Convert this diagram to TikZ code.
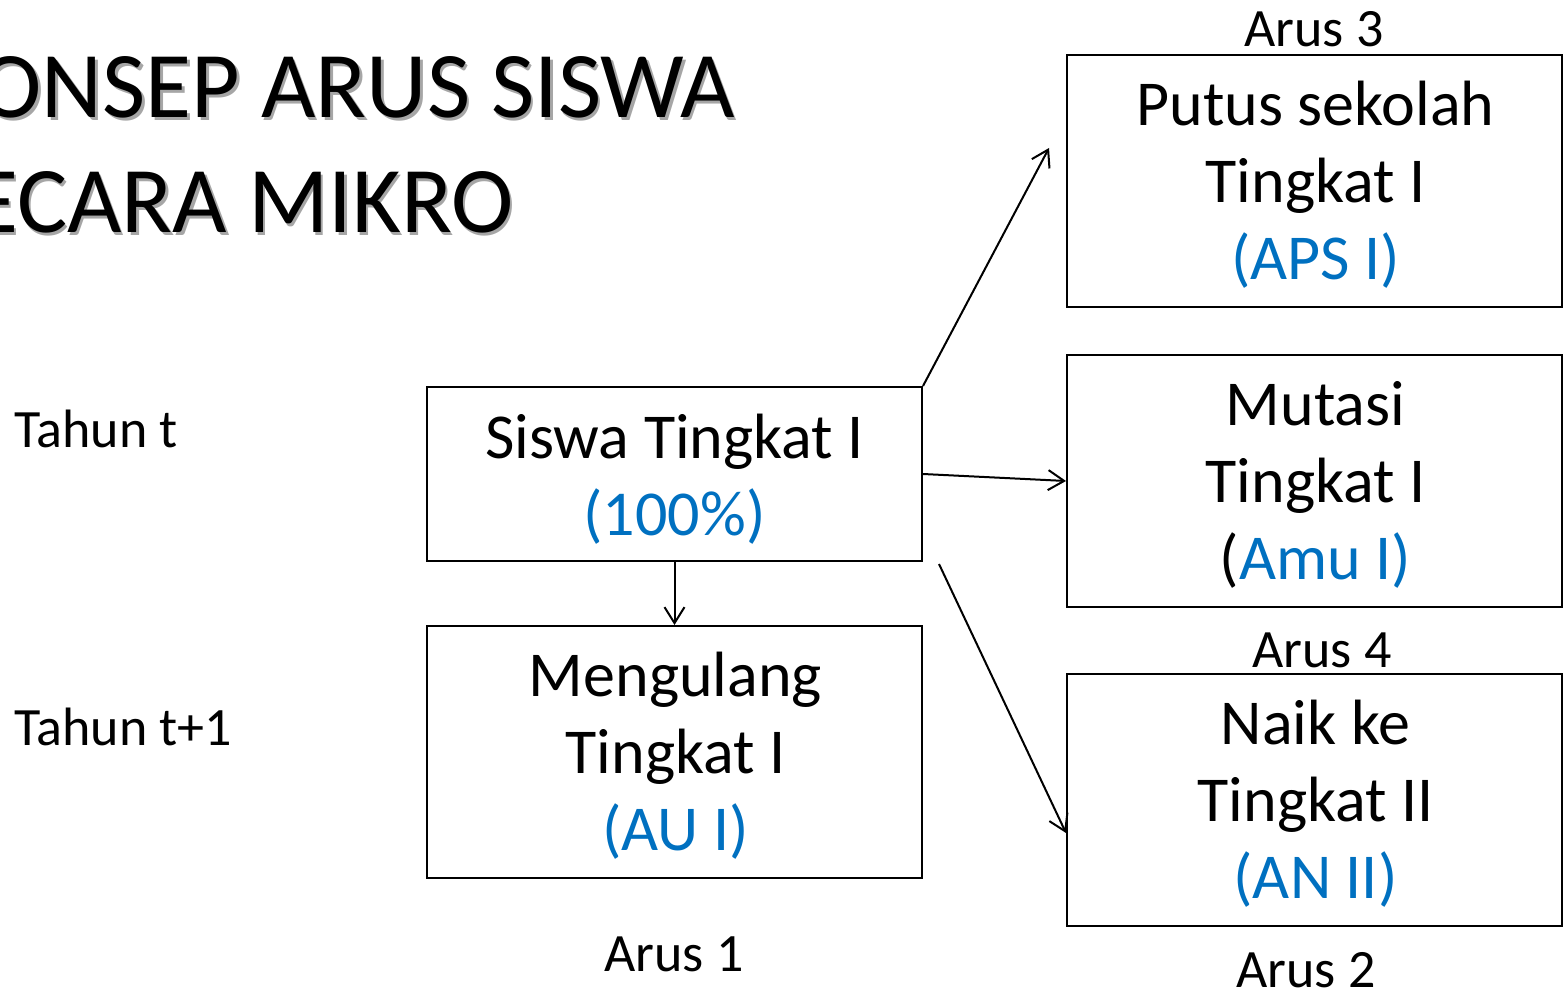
\documentclass[tikz,border=0pt]{standalone}
\usepackage{fontspec}
\setmainfont{Carlito}
\usepackage{xcolor}
\usetikzlibrary{calc, arrows.meta}

\definecolor{arusblue}{HTML}{0070C0}

\tikzset{
	kotak/.style = {draw, line width = 1pt, minimum width = 247.5pt, inner sep = 0pt},
	isi/.style = {align = center, inner sep = 0pt, font = \fontsize{32}{38.5}\selectfont},
	label/.style = {inner sep = 0pt, font = \fontsize{27}{32}\selectfont},
	judul/.style = {inner sep = 0pt, anchor = base east, font = \fontsize{47}{56}\selectfont},
	panah/.style = {line width = 1pt, -{Straight Barb[length = 8pt, width = 10pt, line width = 1pt]}}
}

\newcommand{\biru}[1]{\textcolor{arusblue}{#1}}

\begin{document}
\begin{tikzpicture}[x = 0.5pt, y = -0.5pt]
		\useasboundingbox (0,0) rectangle (1563,989);
		\clip (0,0) rectangle (1563,989);
		
		% judul
		\begin{scope}
			\node [judul, text = black!50, opacity = 0.7] at (737.5,121) {KONSEP ARUS SISWA};
			\node [judul, text = black!50, opacity = 0.7] at (516.5,236) {SECARA MIKRO};
			\node [judul] (judul1) at (735,118) {KONSEP ARUS SISWA};
			\node [judul] (judul2) at (514,233) {SECARA MIKRO};
		\end{scope}
		
		% kotak
		\node [kotak, minimum height = 87pt] (siswa) at (674.5,474) {};
		\node [kotak, minimum height = 126pt] (ulang) at (674.5,752) {};
		\node [kotak, minimum height = 126pt] (putus) at (1314.5,181) {};
		\node [kotak, minimum height = 126pt] (mutasi) at (1314.5,481) {};
		\node [kotak, minimum height = 126pt] (naik) at (1314.5,800) {};
		
		% isi kotak
		\node [isi] (siswateks) at ($ (siswa.center) + (0,5) $) {Siswa Tingkat I\\\biru{(100\%)}};
		\node [isi] (ulangteks) at ($ (ulang.center) + (1,4) $) {Mengulang\\Tingkat I\\\biru{(AU I)}};
		\node [isi] (putusteks) at ($ (putus.center) + (1,4) $) {Putus sekolah\\Tingkat I\\\biru{(APS I)}};
		\node [isi] (mutasiteks) at ($ (mutasi.center) + (1,4) $) {Mutasi\\Tingkat I\\(\biru{Amu I)}};
		\node [isi] (naikteks) at ($ (naik.center) + (1,4) $) {Naik ke\\Tingkat II\\\biru{(AN II)}};
		
		% label
		\node [label, anchor = base west] (tahun1) at (14,447) {Tahun t};
		\node [label, anchor = base west] (tahun2) at (14,745) {Tahun t+1};
		\node [label, anchor = base] (arus3) at (1314,47) {Arus 3};
		\node [label, anchor = base] (arus4) at (1322,667) {Arus 4};
		\node [label, anchor = base] (arus1) at (674,971) {Arus 1};
		\node [label, anchor = base] (arus2) at (1306,987) {Arus 2};
		
		% panah
		\coordinate (ujungputus) at ($ (putus.west) + (-17,-33) $);
		\coordinate (awalnaik) at ($ (siswa.south east) + (16,2) $);
		\coordinate (ujungnaik) at ($ (naik.west) + (0,33) $);
		\begin{scope}[panah]
			\draw (siswa.south) -- (ulang.north);
			\draw (siswa.north east) -- (ujungputus);
			\draw (siswa.east) -- (mutasi.west);
			\draw (awalnaik) -- (ujungnaik);
		\end{scope}
	\end{tikzpicture}
\end{document}
